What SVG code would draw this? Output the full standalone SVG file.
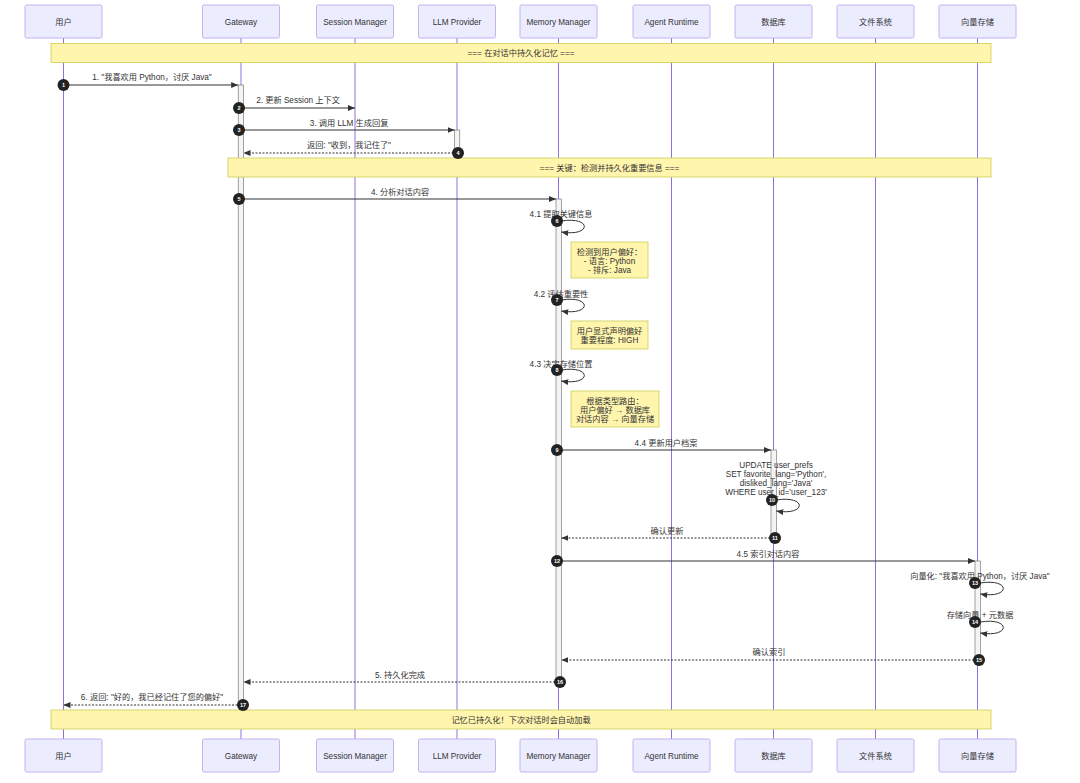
<svg xmlns="http://www.w3.org/2000/svg" width="1080" height="783" viewBox="0 0 1080 783">
<style>
text{font-family:"Liberation Sans",Arial,"Noto Sans CJK SC",sans-serif;font-size:8.2px;fill:#333;text-anchor:middle}
.actor{fill:#ECECFF;stroke:#C3B2F0;stroke-width:1}
.lifeline{stroke:#9370DB;stroke-width:1}
.act{fill:#f4f4f4;stroke:#666;stroke-width:0.6}
.note{fill:#fff5ad;stroke:#cccc55;stroke-width:0.8}
.msg{stroke:#333;stroke-width:1;fill:none;marker-end:url(#arrow)}
.dot{stroke-dasharray:2,1.5}
.sn{fill:#222}
.snt{fill:#fff;font-size:5.5px;font-weight:bold}
</style>
<defs>
<marker id="arrow" markerUnits="userSpaceOnUse" viewBox="0 0 7 6" refX="7" refY="3" markerWidth="7" markerHeight="6" orient="auto">
<path d="M0,0 L7,3 L0,6 z" fill="#333"/>
</marker>
</defs>
<rect width="1080" height="783" fill="#fff"/>
<g id="lifelines">
<line class="lifeline" x1="63.5" y1="38" x2="63.5" y2="739"/>
<line class="lifeline" x1="241" y1="38" x2="241" y2="739"/>
<line class="lifeline" x1="355" y1="38" x2="355" y2="739"/>
<line class="lifeline" x1="457" y1="38" x2="457" y2="739"/>
<line class="lifeline" x1="558.5" y1="38" x2="558.5" y2="739"/>
<line class="lifeline" x1="671.5" y1="38" x2="671.5" y2="739"/>
<line class="lifeline" x1="773.5" y1="38" x2="773.5" y2="739"/>
<line class="lifeline" x1="875.5" y1="38" x2="875.5" y2="739"/>
<line class="lifeline" x1="977.5" y1="38" x2="977.5" y2="739"/>
</g>
<g id="actor-user"><rect class="actor" x="25" y="5" width="77" height="33" rx="1.5"/><text x="63.5" y="24.5">用户</text><rect class="actor" x="25" y="739" width="77" height="33" rx="1.5"/><text x="63.5" y="758.5">用户</text></g>
<g id="actor-gateway"><rect class="actor" x="202.5" y="5" width="77" height="33" rx="1.5"/><text x="241" y="24.5">Gateway</text><rect class="actor" x="202.5" y="739" width="77" height="33" rx="1.5"/><text x="241" y="758.5">Gateway</text></g>
<g id="actor-session"><rect class="actor" x="316.5" y="5" width="77" height="33" rx="1.5"/><text x="355" y="24.5">Session Manager</text><rect class="actor" x="316.5" y="739" width="77" height="33" rx="1.5"/><text x="355" y="758.5">Session Manager</text></g>
<g id="actor-llm"><rect class="actor" x="418.5" y="5" width="77" height="33" rx="1.5"/><text x="457" y="24.5">LLM Provider</text><rect class="actor" x="418.5" y="739" width="77" height="33" rx="1.5"/><text x="457" y="758.5">LLM Provider</text></g>
<g id="actor-memory"><rect class="actor" x="520" y="5" width="77" height="33" rx="1.5"/><text x="558.5" y="24.5">Memory Manager</text><rect class="actor" x="520" y="739" width="77" height="33" rx="1.5"/><text x="558.5" y="758.5">Memory Manager</text></g>
<g id="actor-agent"><rect class="actor" x="633" y="5" width="77" height="33" rx="1.5"/><text x="671.5" y="24.5">Agent Runtime</text><rect class="actor" x="633" y="739" width="77" height="33" rx="1.5"/><text x="671.5" y="758.5">Agent Runtime</text></g>
<g id="actor-db"><rect class="actor" x="735" y="5" width="77" height="33" rx="1.5"/><text x="773.5" y="24.5">数据库</text><rect class="actor" x="735" y="739" width="77" height="33" rx="1.5"/><text x="773.5" y="758.5">数据库</text></g>
<g id="actor-fs"><rect class="actor" x="837" y="5" width="77" height="33" rx="1.5"/><text x="875.5" y="24.5">文件系统</text><rect class="actor" x="837" y="739" width="77" height="33" rx="1.5"/><text x="875.5" y="758.5">文件系统</text></g>
<g id="actor-vector"><rect class="actor" x="939" y="5" width="77" height="33" rx="1.5"/><text x="977.5" y="24.5">向量存储</text><rect class="actor" x="939" y="739" width="77" height="33" rx="1.5"/><text x="977.5" y="758.5">向量存储</text></g>
<g id="activations">
<rect class="act" x="238.2" y="85" width="5.3" height="620"/>
<rect class="act" x="454.5" y="130" width="5.3" height="23"/>
<rect class="act" x="556" y="199" width="5.3" height="483"/>
<rect class="act" x="771" y="450" width="5.3" height="88"/>
<rect class="act" x="975" y="561" width="5.3" height="99"/>
</g>
<g id="note-1"><rect class="note" x="51" y="43.5" width="940" height="19"/><text x="521" y="56">=== 在对话中持久化记忆 ===</text></g>
<g id="note-2"><rect class="note" x="228" y="158" width="763" height="19"/><text x="609.5" y="170.5">=== 关键：检测并持久化重要信息 ===</text></g>
<g id="note-3"><rect class="note" x="571" y="242" width="77" height="36"/><text x="609.5" y="255">检测到用户偏好：</text><text x="609.5" y="264">- 语言: Python</text><text x="609.5" y="272.5">- 排斥: Java</text></g>
<g id="note-4"><rect class="note" x="571" y="321" width="77" height="28"/><text x="609.5" y="334">用户显式声明偏好</text><text x="609.5" y="343">重要程度: HIGH</text></g>
<g id="note-5"><rect class="note" x="571" y="391" width="88" height="36"/><text x="615" y="404">根据类型路由：</text><text x="615" y="413">用户偏好 → 数据库</text><text x="615" y="422">对话内容 → 向量存储</text></g>
<g id="note-6"><rect class="note" x="51" y="710" width="940" height="19"/><text x="521" y="722.5">记忆已持久化！下次对话时会自动加载</text></g>
<g id="connectors">
<line class="msg" x1="63.5" y1="85" x2="238.2" y2="85"/>
<text x="152" y="80">1. "我喜欢用 Python，讨厌 Java"</text>
<line class="msg" x1="243.5" y1="108" x2="355" y2="108"/>
<text x="298" y="103">2. 更新 Session 上下文</text>
<line class="msg" x1="243.5" y1="130" x2="454.5" y2="130"/>
<text x="349" y="125.5">3. 调用 LLM 生成回复</text>
<line class="msg dot" x1="457" y1="153" x2="243.5" y2="153"/>
<text x="349" y="148">返回: "收到，我记住了"</text>
<line class="msg" x1="243.5" y1="199" x2="556" y2="199"/>
<text x="400" y="194.5">4. 分析对话内容</text>
<path class="msg" d="M561.3,221 C592,216 592,237 561.3,232"/>
<text x="561" y="217">4.1 提取关键信息</text>
<path class="msg" d="M561.3,300 C592,295 592,316 561.3,311"/>
<text x="561" y="296.5">4.2 评估重要性</text>
<path class="msg" d="M561.3,370 C592,365 592,386 561.3,381"/>
<text x="561" y="366.5">4.3 决定存储位置</text>
<line class="msg" x1="561.3" y1="450" x2="771" y2="450"/>
<text x="666" y="445.5">4.4 更新用户档案</text>
<text x="776" y="468">UPDATE user_prefs</text>
<text x="776" y="477">SET favorite_lang='Python',</text>
<text x="776" y="486">disliked_lang='Java'</text>
<text x="776" y="495">WHERE user_id='user_123'</text>
<path class="msg" d="M776.3,500 C807,495 807,516 776.3,511"/>
<line class="msg dot" x1="773.5" y1="538" x2="561.3" y2="538"/>
<text x="667" y="533.5">确认更新</text>
<line class="msg" x1="561.3" y1="561" x2="975" y2="561"/>
<text x="768" y="556.5">4.5 索引对话内容</text>
<text x="980" y="579">向量化: "我喜欢用 Python，讨厌 Java"</text>
<path class="msg" d="M980.3,583 C1011,578 1011,599 980.3,594"/>
<text x="980" y="618">存储向量 + 元数据</text>
<path class="msg" d="M980.3,622 C1011,617 1011,638 980.3,633"/>
<line class="msg dot" x1="977.5" y1="660" x2="561.3" y2="660"/>
<text x="769" y="655">确认索引</text>
<line class="msg dot" x1="558.5" y1="682" x2="243.5" y2="682"/>
<text x="400" y="677.5">5. 持久化完成</text>
<line class="msg dot" x1="241" y1="705" x2="63.5" y2="705"/>
<text x="152" y="700">6. 返回: "好的，我已经记住了您的偏好"</text>
</g>
<g id="sequence-numbers">
<circle class="sn" cx="63.5" cy="85" r="6"/><text class="snt" x="63.5" y="87">1</text>
<circle class="sn" cx="239" cy="108" r="6"/><text class="snt" x="239" y="110">2</text>
<circle class="sn" cx="239" cy="130" r="6"/><text class="snt" x="239" y="132">3</text>
<circle class="sn" cx="458" cy="153" r="6"/><text class="snt" x="458" y="155">4</text>
<circle class="sn" cx="239" cy="199" r="6"/><text class="snt" x="239" y="201">5</text>
<circle class="sn" cx="557" cy="221" r="6"/><text class="snt" x="557" y="223">6</text>
<circle class="sn" cx="557" cy="300" r="6"/><text class="snt" x="557" y="302">7</text>
<circle class="sn" cx="557" cy="370" r="6"/><text class="snt" x="557" y="372">8</text>
<circle class="sn" cx="557" cy="450" r="6"/><text class="snt" x="557" y="452">9</text>
<circle class="sn" cx="772" cy="500" r="6"/><text class="snt" x="772" y="502">10</text>
<circle class="sn" cx="775" cy="538" r="6"/><text class="snt" x="775" y="540">11</text>
<circle class="sn" cx="557" cy="561" r="6"/><text class="snt" x="557" y="563">12</text>
<circle class="sn" cx="975" cy="583" r="6"/><text class="snt" x="975" y="585">13</text>
<circle class="sn" cx="975" cy="622" r="6"/><text class="snt" x="975" y="624">14</text>
<circle class="sn" cx="979" cy="660" r="6"/><text class="snt" x="979" y="662">15</text>
<circle class="sn" cx="560" cy="682" r="6"/><text class="snt" x="560" y="684">16</text>
<circle class="sn" cx="243" cy="705" r="6"/><text class="snt" x="243" y="707">17</text>
</g>
</svg>
